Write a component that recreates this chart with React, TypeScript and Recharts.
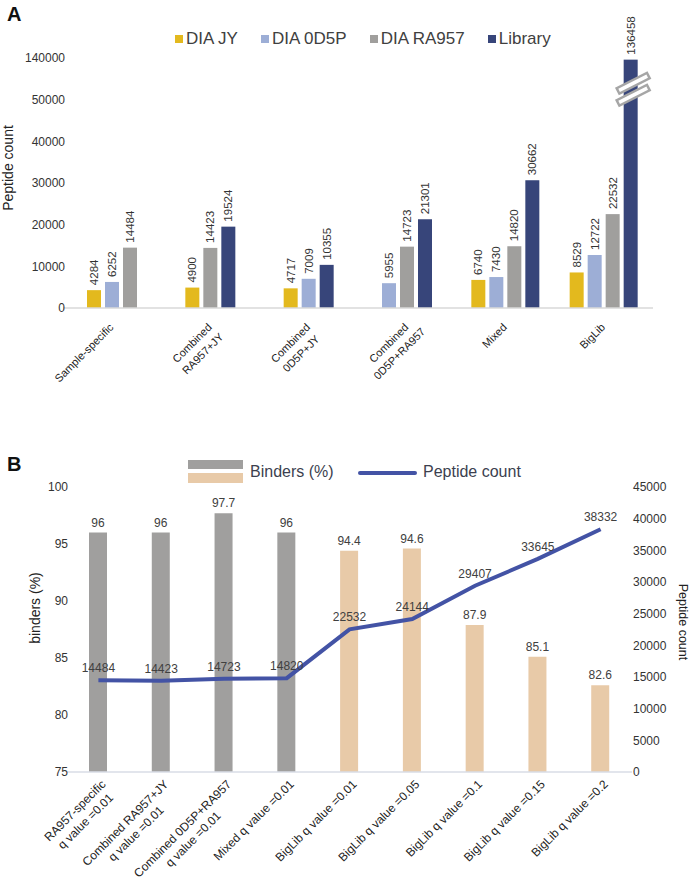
import React from 'react';
import { BarChart, Bar, ComposedChart, Line, XAxis, YAxis, LabelList, Cell } from 'recharts';

const FONT = "'Liberation Sans', Arial, Helvetica, sans-serif";

// ---- Panel A data ----
const groupsA = ['Sample-specific', 'Combined\nRA957+JY', 'Combined\n0D5P+JY', 'Combined\n0D5P+RA957', 'Mixed', 'BigLib'];
const diaJY = [4284, 4900, 4717, null, 6740, 8529];
const dia0D5P = [6252, null, 7009, 5955, 7430, 12722];
const diaRA957 = [14484, 14423, null, 14723, 14820, 22532];
const library = [null, 19524, 10355, 21301, 30662, 136458];
const ticksA = [0, 10000, 20000, 30000, 40000, 50000, 140000];

// ---- Panel B data ----
const groupsB = [
  'RA957-specific\nq value =0.01',
  'Combined RA957+JY\nq value =0.01',
  'Combined 0D5P+RA957\nq value =0.01',
  'Mixed q value =0.01',
  'BigLib q value =0.01',
  'BigLib q value =0.05',
  'BigLib q value =0.1',
  'BigLib q value =0.15',
  'BigLib q value =0.2',
];
const binders = [96, 96, 97.7, 96, 94.4, 94.6, 87.9, 85.1, 82.6];
const peptideCount = [14484, 14423, 14723, 14820, 22532, 24144, 29407, 33645, 38332];
const bindersTicks = [75, 80, 85, 90, 95, 100];
const countTicks = [0, 5000, 10000, 15000, 20000, 25000, 30000, 35000, 40000, 45000];

const seriesA = [
  { key: 'jy', name: 'DIA JY', color: '#E3B91E', values: diaJY },
  { key: 'd5p', name: 'DIA 0D5P', color: '#9DAED6', values: dia0D5P },
  { key: 'ra', name: 'DIA RA957', color: '#A09F9D', values: diaRA957 },
  { key: 'lib', name: 'Library', color: '#37457A', values: library },
];

// broken y axis: everything above 50000 is squeezed so 140000 sits one step above 50000
const BREAK_LOW = 50000;
const BREAK_HIGH = 140000;
const toAxis = (v: number) => (v <= BREAK_LOW ? v : BREAK_LOW + ((v - BREAK_LOW) * 10000) / (BREAK_HIGH - BREAK_LOW));
const fromAxis = (v: number) => (v <= BREAK_LOW ? v : BREAK_LOW + ((v - BREAK_LOW) * (BREAK_HIGH - BREAK_LOW)) / 10000);

const rowsA = groupsA.map((name, i) => {
  const row: any = { name };
  seriesA.forEach((s) => {
    row[s.key] = s.values[i];
    row[s.key + 'Axis'] = s.values[i] == null ? null : toAxis(s.values[i] as number);
  });
  return row;
});

const rowsB = groupsB.map((name, i) => ({ name, binders: binders[i], count: peptideCount[i] }));
const binderColors = groupsB.map((_, i) => (i < 4 ? '#A09F9E' : '#E8CAA8'));

const BAR_A = 14;
const GAP_A = 4;
const PITCH = BAR_A + GAP_A;

// bars are packed and centred inside each group when a series is missing
function packShift(row: any, k: number) {
  const present = seriesA.map((s) => row[s.key] != null);
  const n = present.filter(Boolean).length;
  const p = present.slice(0, k).filter(Boolean).length;
  return (p - k) * PITCH + ((seriesA.length - n) / 2) * PITCH;
}

let ctx: CanvasRenderingContext2D | null = null;
function textWidth(s: string, size: number) {
  if (!ctx && typeof document !== 'undefined') ctx = document.createElement('canvas').getContext('2d');
  if (!ctx) return s.length * size * 0.55;
  ctx.font = `${size}px ${FONT}`;
  return ctx.measureText(s).width;
}

const makeShape = (k: number) => (props: any) => {
  const { x, y, width, height, payload, fill } = props;
  const real = payload[seriesA[k].key];
  if (real == null) return <g />;
  const sx = x + packShift(payload, k);
  const cx = sx + width / 2;
  const disp = toAxis(real);
  const markY = y + height - (height * 52500) / disp;
  return (
    <g>
      <rect x={sx} y={y} width={width} height={height} fill={fill} />
      {real > BREAK_LOW &&
        [-6, 6].map((o) => (
          <rect
            key={o}
            x={-17}
            y={-3}
            width={34}
            height={6}
            fill="#fff"
            stroke="#A6A6A6"
            strokeWidth={2.5}
            transform={`translate(${cx + 2.5},${markY + o}) rotate(-27)`}
          />
        ))}
      <text
        transform={`translate(${cx + 4},${y - 5}) rotate(-90)`}
        fontSize={11.5}
        fontFamily={FONT}
        fill="#333"
        textAnchor="start"
      >
        {real}
      </text>
    </g>
  );
};

function CatTick(props: any) {
  const { x, y, payload, dx, dy, lh, size } = props;
  const lines = String(payload.value).split('\n');
  const w0 = textWidth(lines[0], size);
  return (
    <g transform={`translate(${x + dx},${y + dy}) rotate(-45)`}>
      {lines.map((l, i) => (
        <text key={i} x={-w0 / 2} y={i * lh} textAnchor="middle" fontSize={size} fontFamily={FONT} fill="#222">
          {l}
        </text>
      ))}
    </g>
  );
}

const tickStyle = { fontSize: 12, fill: '#333', fontFamily: FONT };

function PanelA() {
  return (
    <div style={{ position: 'absolute', left: 0, top: 0, width: 690, height: 440 }}>
      <div style={{ position: 'absolute', left: 7, top: 3, fontSize: 20, fontWeight: 'bold', fontFamily: FONT, color: '#111' }}>A</div>
      <div
        style={{
          position: 'absolute',
          left: 175,
          top: 29,
          display: 'flex',
          alignItems: 'center',
          gap: 23,
          fontFamily: FONT,
          fontSize: 17,
          color: '#404040',
          whiteSpace: 'nowrap',
        }}
      >
        {seriesA.map((s) => (
          <div key={s.key} style={{ display: 'flex', alignItems: 'center' }}>
            <span style={{ width: 8, height: 8, background: s.color, marginRight: 3, display: 'inline-block' }} />
            {s.name}
          </div>
        ))}
      </div>
      <BarChart
        width={690}
        height={440}
        data={rowsA}
        margin={{ top: 58, right: 37, left: 0, bottom: 32 }}
        barSize={BAR_A}
        barGap={GAP_A}
      >
        <XAxis
          dataKey="name"
          interval={0}
          height={100}
          tickLine={false}
          tickSize={0}
          tickMargin={0}
          axisLine={{ stroke: '#D9D9D9', strokeWidth: 1.5 }}
          tick={(p: any) => <CatTick {...p} dx={2} dy={20} lh={15} size={11} />}
        />
        <YAxis
          width={63}
          domain={[0, toAxis(BREAK_HIGH)]}
          ticks={ticksA.map(toAxis)}
          tickFormatter={(v: number) => String(Math.round(fromAxis(v)))}
          tickLine={false}
          axisLine={false}
          tickSize={0}
          tickMargin={-2}
          tick={tickStyle}
          label={{
            content: () => (
              <text transform="translate(13,168) rotate(-90)" textAnchor="middle" fontSize={14} fontFamily={FONT} fill="#222">
                Peptide count
              </text>
            ),
          }}
        />
        {seriesA.map((s, k) => (
          <Bar key={s.key} dataKey={s.key + 'Axis'} name={s.name} fill={s.color} isAnimationActive={false} shape={makeShape(k)} />
        ))}
      </BarChart>
    </div>
  );
}

function PanelB() {
  return (
    <div style={{ position: 'absolute', left: 0, top: 440, width: 690, height: 442 }}>
      <div style={{ position: 'absolute', left: 7, top: 13, fontSize: 20, fontWeight: 'bold', fontFamily: FONT, color: '#111' }}>B</div>
      <div style={{ position: 'absolute', left: 188, top: 20, width: 55, height: 9, background: '#A09F9E' }} />
      <div style={{ position: 'absolute', left: 188, top: 33, width: 55, height: 10, background: '#E8CAA8' }} />
      <div style={{ position: 'absolute', left: 250, top: 23, fontFamily: FONT, fontSize: 16, color: '#3C3F4F', whiteSpace: 'nowrap' }}>
        Binders (%)
      </div>
      <div style={{ position: 'absolute', left: 358, top: 31, width: 59, height: 4, borderRadius: 2, background: '#4353A5' }} />
      <div style={{ position: 'absolute', left: 423, top: 23, fontFamily: FONT, fontSize: 16, color: '#3C3F4F', whiteSpace: 'nowrap' }}>
        Peptide count
      </div>
      <ComposedChart width={690} height={442} data={rowsB} margin={{ top: 47, right: 0, left: 0, bottom: 0 }}>
        <XAxis
          dataKey="name"
          interval={0}
          height={110}
          tickLine={false}
          tickSize={0}
          tickMargin={0}
          axisLine={{ stroke: '#D9DCE6', strokeWidth: 1.5 }}
          tick={(p: any) => <CatTick {...p} dx={8} dy={13} lh={15} size={12} />}
        />
        <YAxis
          yAxisId="left"
          width={67}
          domain={[75, 100]}
          ticks={bindersTicks}
          tickLine={false}
          axisLine={false}
          tickSize={0}
          tickMargin={-1}
          tick={tickStyle}
          label={{
            content: () => (
              <text transform="translate(40,168) rotate(-90)" textAnchor="middle" fontSize={14} fontFamily={FONT} fill="#222">
                binders (%)
              </text>
            ),
          }}
        />
        <YAxis
          yAxisId="right"
          orientation="right"
          width={58}
          domain={[0, 45000]}
          ticks={countTicks}
          tickLine={false}
          axisLine={false}
          tickSize={0}
          tickMargin={1}
          tick={tickStyle}
          label={{
            content: () => (
              <text transform="translate(679,182) rotate(90)" textAnchor="middle" fontSize={12.5} fontFamily={FONT} fill="#222">
                Peptide count
              </text>
            ),
          }}
        />
        <Bar yAxisId="left" dataKey="binders" barSize={18} isAnimationActive={false}>
          {rowsB.map((_, i) => (
            <Cell key={i} fill={binderColors[i]} />
          ))}
          <LabelList dataKey="binders" position="top" offset={6} fontSize={12} fontFamily={FONT} fill="#404040" />
        </Bar>
        <Line
          yAxisId="right"
          dataKey="count"
          stroke="#4353A5"
          strokeWidth={4}
          dot={false}
          isAnimationActive={false}
        >
          <LabelList dataKey="count" position="top" offset={8} fontSize={12} fontFamily={FONT} fill="#404040" />
        </Line>
      </ComposedChart>
    </div>
  );
}

export default function App() {
  return (
    <div style={{ position: 'absolute', left: 0, top: 0, width: 690, height: 882, background: '#fff' }}>
      <PanelA />
      <PanelB />
    </div>
  );
}
